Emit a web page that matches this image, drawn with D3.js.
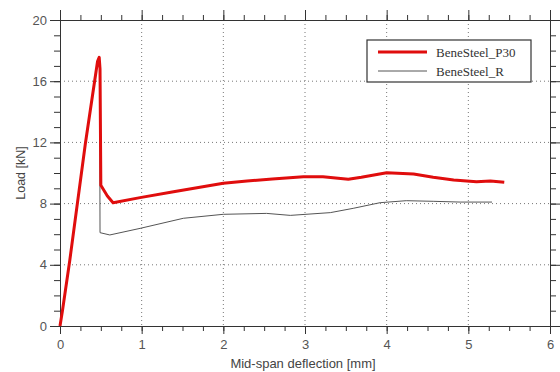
<!DOCTYPE html>
<html>
<head>
<meta charset="utf-8">
<script src="https://cdn.jsdelivr.net/npm/d3@7"></script>
<style>
  body { margin: 0; background: #fff; }
  .tick text { font-family: "Liberation Sans", Arial, sans-serif; font-size: 13px; fill: #555; }
</style>
</head>
<body>
<div id="chart"></div>
<script>
// deflection [mm] / load [kN]
var p30X = [0, 0.03, 0.12, 0.31, 0.46, 0.48, 0.49, 0.5, 0.58, 0.65, 0.98, 1.39, 2.0, 2.29, 2.6, 2.98, 3.22, 3.53, 3.69, 4.0, 4.33, 4.57, 4.82, 5.1, 5.27, 5.44];
var p30Y = [0, 1.0, 4.3, 11.9, 17.3, 17.56, 16.8, 9.2, 8.5, 8.06, 8.39, 8.78, 9.33, 9.48, 9.6, 9.76, 9.76, 9.59, 9.72, 10.02, 9.93, 9.72, 9.54, 9.43, 9.48, 9.39];
var refX = [0, 0.12, 0.31, 0.46, 0.485, 0.49, 0.61, 0.98, 1.51, 2.0, 2.53, 2.82, 3.31, 3.59, 3.92, 4.24, 4.57, 4.9, 5.29];
var refY = [0, 4.3, 11.9, 17.2, 17.3, 6.1, 5.95, 6.38, 7.04, 7.3, 7.36, 7.23, 7.41, 7.69, 8.06, 8.19, 8.15, 8.1, 8.1];
var xTicks = [0, 1, 2, 3, 4, 5, 6];
var yTicks = [0, 4, 8, 12, 16, 20];
var seriesNames = ['BeneSteel_P30', 'BeneSteel_R'];

var svgWidth = 560, svgHeight = 372,
    margin = { top: 20, right: 10, bottom: 46, left: 60 },
    width = svgWidth - margin.left - margin.right,
    height = svgHeight - margin.top - margin.bottom;

var svg = d3.select('#chart').append('svg').attr('width', svgWidth).attr('height', svgHeight);
var g = svg.append('g').attr('transform', 'translate(' + margin.left + ',' + margin.top + ')');

var x = d3.scaleLinear().domain([0, 6]).range([0, width]);
var y = d3.scaleLinear().domain([0, 20]).range([height, 0]);

var xMinor = d3.range(0, 6.001, 0.25);
var yMinor = d3.range(0, 20.001, 1);

// grid
g.append('g').selectAll('line').data(xTicks.slice(1, -1)).enter().append('line')
  .attr('x1', function(d) { return x(d); }).attr('x2', function(d) { return x(d); })
  .attr('y1', 0).attr('y2', height)
  .attr('stroke', '#777').attr('stroke-width', 1).attr('stroke-dasharray', '1,3');
g.append('g').selectAll('line').data(yTicks.slice(1, -1)).enter().append('line')
  .attr('y1', function(d) { return y(d); }).attr('y2', function(d) { return y(d); })
  .attr('x1', 0).attr('x2', width)
  .attr('stroke', '#777').attr('stroke-width', 1).attr('stroke-dasharray', '1,3');

function styleAxis(sel) {
  sel.select('.domain').attr('stroke', '#333');
  sel.selectAll('.tick line').attr('stroke', '#333');
}

// minor ticks
g.append('g').attr('transform', 'translate(0,' + height + ')')
  .call(d3.axisBottom(x).tickValues(xMinor).tickSize(5).tickFormat('')).call(styleAxis);
g.append('g').call(d3.axisTop(x).tickValues(xMinor).tickSize(5).tickFormat('')).call(styleAxis);
g.append('g').call(d3.axisLeft(y).tickValues(yMinor).tickSize(6).tickFormat('')).call(styleAxis);
g.append('g').attr('transform', 'translate(' + width + ',0)')
  .call(d3.axisRight(y).tickValues(yMinor).tickSize(6).tickFormat('')).call(styleAxis);

// major ticks
g.append('g').attr('transform', 'translate(0,' + height + ')')
  .call(d3.axisBottom(x).tickValues(xTicks).tickSize(8).tickPadding(6).tickFormat(d3.format('d'))).call(styleAxis);
g.append('g').call(d3.axisTop(x).tickValues(xTicks).tickSize(10).tickFormat('')).call(styleAxis);
g.append('g').call(d3.axisLeft(y).tickValues(yTicks).tickSize(10).tickPadding(3).tickFormat(d3.format('d'))).call(styleAxis);
g.append('g').attr('transform', 'translate(' + width + ',0)')
  .call(d3.axisRight(y).tickValues(yTicks).tickSize(10).tickFormat('')).call(styleAxis);

var line = d3.line()
  .x(function(d) { return x(d[0]); })
  .y(function(d) { return y(d[1]); });

g.append('path')
  .datum(d3.zip(refX, refY))
  .attr('fill', 'none')
  .attr('stroke', '#555')
  .attr('stroke-width', 1)
  .attr('d', line);

g.append('path')
  .datum(d3.zip(p30X, p30Y))
  .attr('fill', 'none')
  .attr('stroke', '#e00d0d')
  .attr('stroke-linejoin', 'round')
  .attr('stroke-width', 3)
  .attr('d', line);

// axis titles
svg.append('text')
  .attr('x', margin.left + width / 2 - 2).attr('y', 368)
  .attr('text-anchor', 'middle')
  .style('font-family', '"Liberation Sans", Arial, sans-serif').style('font-size', '13px').style('fill', '#444')
  .text('Mid-span deflection [mm]');
svg.append('text')
  .attr('transform', 'translate(25,' + (margin.top + height / 2) + ') rotate(-90)')
  .attr('text-anchor', 'middle')
  .style('font-family', '"Liberation Sans", Arial, sans-serif').style('font-size', '12.5px').style('fill', '#444')
  .text('Load [kN]');

// legend
var legend = svg.append('g').attr('transform', 'translate(367,40)');
legend.append('rect').attr('width', 164).attr('height', 42)
  .attr('fill', '#fff').attr('stroke', '#333').attr('stroke-width', 1.2);
var legendStyles = [{ c: '#e00d0d', w: 3 }, { c: '#555', w: 1 }];
seriesNames.forEach(function(name, i) {
  var yy = 12 + i * 19;
  legend.append('line').attr('x1', 11).attr('x2', 60).attr('y1', yy).attr('y2', yy)
    .attr('stroke', legendStyles[i].c).attr('stroke-width', legendStyles[i].w);
  legend.append('text').attr('x', 69).attr('y', yy + 4.5)
    .style('font-family', '"Liberation Serif", "Times New Roman", serif').style('font-size', '13px').style('fill', '#333')
    .text(name);
});
</script>
</body>
</html>
